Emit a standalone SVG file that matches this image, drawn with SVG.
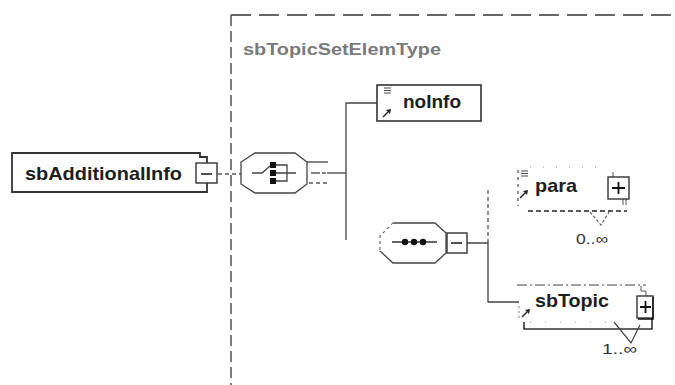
<svg xmlns="http://www.w3.org/2000/svg" width="675" height="385" viewBox="0 0 675 385">
<style>
.t{font-family:"Liberation Sans",Arial,sans-serif;font-weight:bold;fill:#1e1e1e}
.n{font-family:"Liberation Sans",Arial,sans-serif;fill:#333}
.ln{fill:none;stroke:#444;stroke-width:1.3}
.dl{fill:none;stroke:#555;stroke-width:1.3;stroke-dasharray:4,3}
.box{fill:#fff;stroke:#333;stroke-width:1.6}
.oct{fill:#fff;stroke:#444;stroke-width:1.3}
.ico{fill:none;stroke:#333;stroke-width:1}
</style>
<defs>
<g id="arrowIcon"><path d="M0,8 L5,3" stroke="#222" stroke-width="1.4"/><polygon points="3,1 8,0 7,5" fill="#222"/></g>
<g id="eqIcon"><path d="M0,0 H7 M0,2.5 H7 M0,5 H7" stroke="#333" stroke-width="0.9"/></g>
</defs>
<rect width="675" height="385" fill="#fff"/>

<g id="sbTopicSetElemType">
<path d="M231,15 H675" stroke="#333" stroke-width="1.6" stroke-dasharray="20,8"/>
<path d="M231,15 V385" stroke="#444" stroke-width="1.4" stroke-dasharray="11,5"/>
<text class="t" x="243" y="55" font-size="17" style="fill:#7a7a7a" textLength="198" lengthAdjust="spacingAndGlyphs">sbTopicSetElemType</text>
</g>

<g id="connectors">
<path class="dl" d="M218,174 H242"/>
<path class="ln" d="M327,173 H346"/>
<path class="ln" d="M346,240 V103 H377"/>
<path class="ln" d="M467,243 H488 V302 H519"/>
<path class="dl" d="M488,243 V188"/>
</g>

<g id="node-sbAdditionalInfo">
<path d="M207,163 V157 H200 V153 H12 V192 H207 V183" fill="#fff" stroke="#333" stroke-width="1.8"/>
<text class="t" x="25" y="180" font-size="18.5" textLength="157" lengthAdjust="spacingAndGlyphs">sbAdditionalInfo</text>
<rect x="196" y="163" width="21" height="20" fill="#fff" stroke="#333" stroke-width="1.4"/>
<path d="M201,174 H212" stroke="#222" stroke-width="1.6"/>
</g>

<g id="node-choice">
<polygon class="oct" points="255,153 295,153 307,162 307,184 295,193 255,193 241,184 241,162"/>
<path class="ln" d="M252,173 H262 L270,166"/>
<rect x="270" y="162" width="6" height="6" fill="#111"/>
<rect x="270" y="170" width="6" height="6" fill="#111"/>
<rect x="270" y="178" width="6" height="6" fill="#111"/>
<path class="ln" d="M276,165 H287 V181 H276 M276,173 H296"/>
<path class="ln" d="M307,162 H328"/>
<path class="ln" d="M311,173 H320"/>
<path class="dl" d="M322,173 H327 M309,183 H327"/>
</g>

<g id="node-noInfo">
<rect class="box" x="377" y="85" width="104" height="36"/>
<use href="#eqIcon" x="384" y="88"/>
<use href="#arrowIcon" x="383" y="109"/>
<text class="t" x="403" y="108" font-size="18.5" textLength="58" lengthAdjust="spacingAndGlyphs">noInfo</text>
</g>

<g id="node-sequence">
<path d="M380,250 L380,236 L393,223" fill="none" stroke="#666" stroke-width="1.2" stroke-dasharray="3,3"/>
<path class="oct" d="M393,223 H435 L446,233 V253 L435,263 H393 L380,251"/>
<path d="M392,242 H437" stroke="#333" stroke-width="1.6"/>
<circle cx="405" cy="242" r="3.2" fill="#111"/>
<circle cx="414" cy="242" r="3.2" fill="#111"/>
<circle cx="423" cy="242" r="3.2" fill="#111"/>
<rect x="447" y="233" width="20" height="20" fill="#fff" stroke="#333" stroke-width="1.4"/>
<path d="M451,243 H462" stroke="#222" stroke-width="1.6"/>
</g>

<g id="node-para">
<path d="M518,170 V206" stroke="#555" stroke-width="1.3" stroke-dasharray="3,4" fill="none"/>
<path d="M530,167 H606" stroke="#888" stroke-width="1" stroke-dasharray="1,12" fill="none"/>
<path d="M528,211 H627" stroke="#222" stroke-width="1.6" stroke-dasharray="5,3" fill="none"/>
<use href="#eqIcon" x="521" y="171"/>
<use href="#arrowIcon" x="520" y="190"/>
<text class="t" x="535" y="192" font-size="18.5" textLength="42" lengthAdjust="spacingAndGlyphs">para</text>
<path d="M613,172 V177 M623,199 V205 M626,199 V205" stroke="#555" stroke-width="1" fill="none"/>
<rect x="608" y="177" width="21" height="22" fill="#fff" stroke="#333" stroke-width="1.4"/>
<path d="M612,188 H625 M618.5,182 V194" stroke="#111" stroke-width="1.8"/>
<path d="M590,212 L601,225 L609,212" stroke="#555" stroke-width="1.1" stroke-dasharray="3,2" fill="none"/>
<text class="n" x="576" y="244" font-size="14.5" textLength="32" lengthAdjust="spacingAndGlyphs">0..∞</text>
</g>

<g id="node-sbTopic">
<path d="M517,285 H646" stroke="#444" stroke-width="1.2" stroke-dasharray="10,3,2,3" fill="none"/>
<path d="M519,306 V320" stroke="#777" stroke-width="1" stroke-dasharray="2,3" fill="none"/>
<path d="M524,322 V329 H652 V318" stroke="#333" stroke-width="1.6" fill="none"/>
<path d="M530,322 H612" stroke="#999" stroke-width="1" stroke-dasharray="1,14" fill="none"/>
<use href="#arrowIcon" x="522" y="309"/>
<text class="t" x="535" y="307" font-size="18.5" textLength="74" lengthAdjust="spacingAndGlyphs">sbTopic</text>
<path d="M641,286 V291 H646 V296" stroke="#555" stroke-width="1" fill="none"/>
<rect x="637" y="296" width="16" height="22" fill="#fff" stroke="#333" stroke-width="1.4"/>
<path d="M653,297 V319 H638" stroke="#111" stroke-width="1.4" fill="none"/>
<path d="M640,307 H651 M645.5,301 V313" stroke="#111" stroke-width="1.8"/>
<path d="M614,322 L631,343 L640,325" stroke="#444" stroke-width="1.2" fill="none"/>
<text class="n" x="602" y="354" font-size="14.5" textLength="35" lengthAdjust="spacingAndGlyphs">1..∞</text>
</g>
</svg>
